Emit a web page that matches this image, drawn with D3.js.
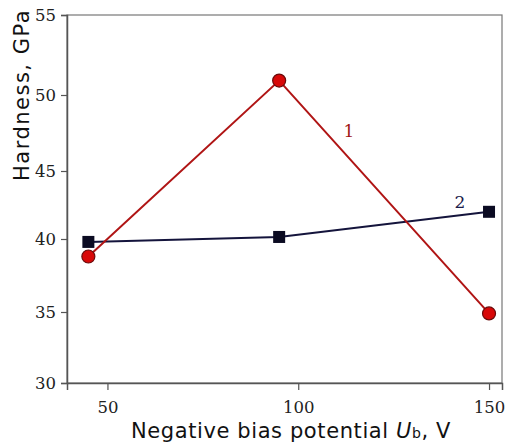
<!DOCTYPE html>
<html>
<head>
<meta charset="utf-8">
<script src="https://cdn.jsdelivr.net/npm/d3@7"></script>
<style>
  body { margin: 0; background: #fff; }
</style>
</head>
<body>
<div id="chart"></div>
<script>
// bias potential, V
const biasX = [45, 95, 150];
// series 1 (red circles) and series 2 (dark squares), GPa
const hardness1 = [38.8, 50.9, 34.9];
const hardness2 = [39.8, 40.15, 42.0];
const xTicks = [50, 100, 150];
const yTicks = [30, 35, 40, 45, 50, 55];

const width = 505;
const height = 445;
const margin = { top: 15, right: 3, bottom: 62, left: 67 };

const svg = d3.select('#chart').append('svg')
  .attr('width', width)
  .attr('height', height);

const x = d3.scaleLinear()
  .domain([39.4, 153.4])
  .range([margin.left, width - margin.right]);

// the scanned axis is slightly uneven, so map each tick to where it sits
const y = d3.scaleLinear()
  .domain(yTicks)
  .range([383, 312, 239, 171, 95, 15]);

// frame
svg.append('rect')
  .attr('x', margin.left)
  .attr('y', margin.top)
  .attr('width', width - margin.left - margin.right)
  .attr('height', height - margin.top - margin.bottom)
  .attr('fill', 'none')
  .attr('stroke', '#777')
  .attr('stroke-width', 1.2);

const tickFont = '"DejaVu Serif", "Liberation Serif", serif';

const xAxis = svg.append('g')
  .attr('transform', `translate(0,${height - margin.bottom})`)
  .call(d3.axisBottom(x).tickValues(xTicks).tickSize(7).tickPadding(11));
xAxis.select('.domain').attr('stroke', '#555').attr('stroke-width', 1.5);
xAxis.selectAll('.tick line').attr('stroke', '#555').attr('stroke-width', 1.2);
xAxis.selectAll('text')
  .attr('font-family', tickFont)
  .attr('font-size', 16.5)
  .attr('fill', '#222');

const yAxis = svg.append('g')
  .attr('transform', `translate(${margin.left},0)`)
  .call(d3.axisLeft(y).tickValues(yTicks).tickSize(6).tickPadding(5));
yAxis.select('.domain').attr('stroke', '#555').attr('stroke-width', 1.5);
yAxis.selectAll('.tick line').attr('stroke', '#555').attr('stroke-width', 1.2);
yAxis.selectAll('text')
  .attr('font-family', tickFont)
  .attr('font-size', 16.5)
  .attr('fill', '#222');

// axis titles
const titleFont = '"DejaVu Sans", "Liberation Sans", sans-serif';
const xTitle = svg.append('text')
  .attr('x', 291)
  .attr('y', 438)
  .attr('text-anchor', 'middle')
  .attr('font-family', titleFont)
  .attr('font-size', 21)
  .attr('letter-spacing', 0.6)
  .attr('fill', '#111');
xTitle.append('tspan').text('Negative bias potential ');
xTitle.append('tspan').attr('font-style', 'italic').text('U');
xTitle.append('tspan').attr('font-size', 14).text('b');
xTitle.append('tspan').text(', V');

svg.append('text')
  .attr('transform', 'translate(29,95) rotate(-90)')
  .attr('text-anchor', 'middle')
  .attr('font-family', titleFont)
  .attr('font-size', 21)
  .attr('letter-spacing', 1.5)
  .attr('fill', '#111')
  .text('Hardness, GPa');

const line = d3.line()
  .x(d => x(d[0]))
  .y(d => y(d[1]));

const pts1 = biasX.map((v, i) => [v, hardness1[i]]);
const pts2 = biasX.map((v, i) => [v, hardness2[i]]);

// series 2
svg.append('path')
  .datum(pts2)
  .attr('d', line)
  .attr('fill', 'none')
  .attr('stroke', '#14143c')
  .attr('stroke-width', 2);

// series 1
svg.append('path')
  .datum(pts1)
  .attr('d', line)
  .attr('fill', 'none')
  .attr('stroke', '#b01515')
  .attr('stroke-width', 2);

svg.selectAll('.sq')
  .data(pts2)
  .enter().append('rect')
  .attr('class', 'sq')
  .attr('x', d => x(d[0]) - 6)
  .attr('y', d => y(d[1]) - 6)
  .attr('width', 12)
  .attr('height', 12)
  .attr('fill', '#0b0b22');

svg.selectAll('.dot')
  .data(pts1)
  .enter().append('circle')
  .attr('class', 'dot')
  .attr('cx', d => x(d[0]))
  .attr('cy', d => y(d[1]))
  .attr('r', 6.5)
  .attr('fill', '#d80808')
  .attr('stroke', '#6a0a0a')
  .attr('stroke-width', 1.2);

// curve labels
svg.append('text')
  .attr('x', 349)
  .attr('y', 137)
  .attr('text-anchor', 'middle')
  .attr('font-family', tickFont)
  .attr('font-size', 17)
  .attr('fill', '#a01515')
  .text('1');

svg.append('text')
  .attr('x', 460)
  .attr('y', 208)
  .attr('text-anchor', 'middle')
  .attr('font-family', tickFont)
  .attr('font-size', 17)
  .attr('fill', '#1a1a4a')
  .text('2');
</script>
</body>
</html>
